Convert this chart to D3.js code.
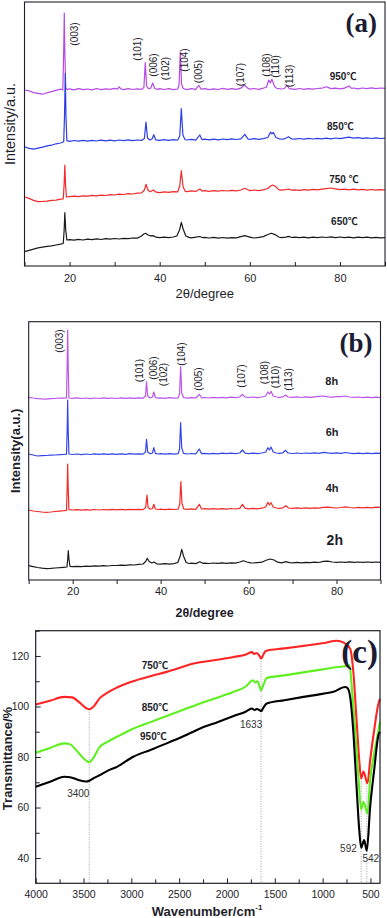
<!DOCTYPE html>
<html>
<head>
<meta charset="utf-8">
<script src="https://cdn.jsdelivr.net/npm/d3@7"></script>
<style>
  body { margin: 0; background: #fff; }
  svg { display: block; font-family: "Liberation Sans", Arial, "Noto Sans CJK SC", sans-serif; }
</style>
</head>
<body>
<svg id="fig" width="387" height="918"></svg>
<script>
// ---- panel (a): XRD vs calcination temperature, [2theta, intensity a.u.]
const a950 = [[10,176],[11,175.2],[12,173.4],[13,172.6],[14,171.8],[15,173.2],[16,174.4],[17,175.6],[18,176.8],[18.5,176.2],[18.7,215],[18.83,253],[18.95,214],[19.15,178],[19.5,176.4],[20,177.2],[21,176.1],[22,177.4],[23,176.3],[24,177],[25,176.2],[26,177.5],[27,176.4],[28,177.1],[29,176.6],[30,177.6],[30.6,176.8],[31,179.2],[31.4,177],[32,176.3],[33,177.4],[34,176.5],[35,177.2],[36,176.6],[36.5,178.5],[36.8,203.5],[37.1,180],[37.5,177.3],[38,177.8],[38.45,183],[38.9,177.5],[39.5,176.6],[40,177.4],[41,176.5],[42,177.3],[43,176.4],[44,177],[44.3,181],[44.58,214],[44.85,182],[45.2,177.5],[46,176.4],[47,177.3],[48,176.6],[48.66,180.7],[49.2,176.8],[50,177.4],[51,176.3],[52,177.2],[53,176.5],[54,177.6],[55,176.7],[56,177.4],[57,176.6],[58,177.8],[58.8,181],[59.6,177.6],[60,176.8],[61,177.5],[62,176.6],[63,177.8],[63.7,179],[64.2,186],[64.55,183],[64.9,186.7],[65.5,179.5],[66,177.6],[67,177],[67.7,177.5],[68.2,180.7],[68.8,177.4],[70,176.6],[71,177.5],[72,176.7],[73,177.4],[74,176.8],[75,177.5],[76,177.8],[77,179.3],[78,177.4],[79,177.9],[80,177.2],[81,177.9],[82,180],[82.6,177.6],[83,178],[84,177.1],[85,178],[86,177.4],[87,178.1],[88,177.3],[89,178],[90,177.7]];
const a850 = [[10,119.3],[11,117.6],[12,116.8],[13,117.9],[14,118.8],[15,120.1],[16,120.8],[17,122.2],[18,123],[18.7,124.2],[18.88,150],[19.05,192.5],[19.2,150],[19.4,125.4],[20,124.6],[21,125.5],[22,124.8],[23,125.6],[24,124.9],[25,125.7],[26,125],[27,125.8],[28,125.1],[29,125.9],[30,125.2],[31,126],[32,125.3],[33,126.1],[34,125.4],[35,126],[36,125.6],[36.6,127.5],[36.96,144],[37.3,128],[37.8,126],[38.3,127],[38.7,131.3],[39.1,126.2],[40,125.6],[41,126.3],[42,125.7],[43,126.4],[44,126],[44.45,130],[44.8,157.5],[45.15,131],[45.6,126.5],[46,126],[47,126.6],[48,125.9],[48.9,131],[49.4,126.3],[50,126.8],[51,126.1],[52,126.9],[53,126.2],[54,127],[55,126.3],[56,127.1],[57,126.5],[58,127.2],[58.9,131.7],[59.6,127],[60,126.6],[61,127.3],[62,126.6],[63,127.4],[64,128.5],[64.6,134],[64.9,132],[65.2,133.7],[65.8,128.5],[66.5,127.2],[67.5,126.8],[68.6,129.3],[69.3,127],[70,126.8],[71,127.5],[72,126.9],[73,127.6],[74,127],[75,127.7],[76,127.1],[77,127.8],[78,127.2],[79,128],[80,127.4],[81,128.2],[82,128.8],[83,127.8],[84,128.3],[85,127.6],[86,128.2],[87,127.5],[88,128.1],[89,127.5],[90,127.8]];
const a750 = [[10,69.3],[11,67.6],[12,65.6],[13,64.4],[14,64.6],[15,64.9],[16,65.6],[17,65.9],[18,66.8],[18.6,67.2],[18.8,82],[18.95,101],[19.1,82],[19.3,69],[20,69.4],[21,69.8],[22,69.3],[23,70.2],[24,69.9],[25,70.6],[26,70.1],[27,70.9],[28,70.5],[29,71.3],[30,71],[31,71.8],[32,71.5],[33,72.3],[34,72],[35,72.8],[36,73.2],[36.6,76],[36.96,81.7],[37.4,76],[37.9,74.2],[38.6,76],[39.2,73.8],[40,73.3],[41,74.1],[42,73.6],[43,74.4],[44,74.2],[44.45,80],[44.8,95.3],[45.2,79],[45.7,74.6],[46,74.4],[47,75.1],[48,74.6],[48.9,77],[49.5,74.8],[50,75.3],[51,74.7],[52,75.4],[53,74.9],[54,75.5],[55,75],[56,75.6],[57,75.1],[58,76],[58.9,77.7],[59.8,75.8],[60,75.3],[61,76],[62,75.4],[63,76.2],[64,77.5],[64.6,80],[65.1,81],[65.7,79.5],[66.4,76.4],[67,75.8],[68,76.3],[68.6,77],[69.3,75.9],[70,76.2],[71,75.6],[72,76.4],[73,75.8],[74,76.6],[75,76.1],[76,76.9],[77,77.4],[78,78],[79,77.2],[80,76.4],[81,76.9],[82,76.2],[83,76.8],[84,76.1],[85,76.7],[86,75.9],[87,76.5],[88,75.8],[89,76.4],[90,76]];
const a650 = [[10,14.3],[11,15.6],[12,16.8],[13,18.1],[14,18.8],[15,19.6],[16,20.1],[17,21],[18,21.8],[18.6,22.5],[18.8,36],[18.95,53.3],[19.15,36],[19.4,26],[20,26.4],[21,25.8],[22,26.6],[23,26],[24,26.8],[25,26.3],[26,27.1],[27,26.5],[28,27.3],[29,26.8],[30,27.5],[31,27],[32,27.7],[33,27.3],[34,28],[35,27.9],[35.8,29.5],[36.5,32],[36.9,32.7],[37.4,31],[38,30.2],[38.5,30.4],[39.2,28.8],[40,28.3],[41,28.9],[42,28.4],[43,29],[43.8,30],[44.4,36],[44.8,43.7],[45.2,37],[45.8,30],[46.5,28.6],[47,28.2],[48,28.8],[48.9,29.5],[49.6,28.3],[50,28.7],[51,28],[52,28.6],[53,27.9],[54,28.5],[55,27.8],[56,28.4],[57,28.2],[58,29.4],[58.9,30.3],[59.8,29.2],[60.5,28.3],[61,28],[62,28.6],[63,29.4],[64,31.5],[64.8,32.8],[65.6,31.4],[66.4,29],[67,28.4],[68,28.9],[68.6,29.6],[69.3,28.5],[70,28.9],[71,28.3],[72,28.9],[73,28.2],[74,28.8],[75,28.4],[76,29],[77,28.5],[78,29.1],[79,28.4],[80,29],[81,28.3],[82,28.9],[83,28.2],[84,28.8],[85,28.3],[86,28.9],[87,28.2],[88,28.7],[89,28.1],[90,28.3]];
const tempsA = ["950\u2103", "850\u2103", "750 \u2103", "650\u2103"];
const tagPosA = [[80.7,190],[80.1,140],[80.9,87],[81.0,45]];
const hklNames = ["(003)","(101)","(006)","(102)","(104)","(005)","(107)","(108)","(110)","(113)"];
const hklPosA = [[21.0,232],[35.0,217],[38.7,201],[41.2,197.5],[45.6,206],[48.6,194.5],[58.0,191.5],[63.75,201],[65.8,199.5],[68.9,190]];

// ---- panel (b): XRD vs calcination time
const b8h = [[10,182.7],[11,182],[12,181.4],[13,181.1],[14,180.9],[15,181.3],[16,181.5],[17,182],[18,181.8],[18.6,182.2],[18.75,215],[18.86,250],[18.98,215],[19.15,182],[20,181.6],[21,182.1],[22,181.5],[23,182],[24,181.4],[25,182],[26,181.5],[27,182.1],[28,181.6],[29,182],[30,181.5],[31,182.1],[32,181.6],[33,182.2],[34,181.7],[35,182.1],[36,181.8],[36.55,184],[36.8,198.3],[37.05,184],[37.6,182],[38.15,183],[38.45,188],[38.8,182.5],[39.5,181.8],[40,182.2],[41,181.7],[42,182.3],[43,181.8],[44,182.2],[44.3,186],[44.55,213.3],[44.8,187],[45.2,182.5],[46,181.9],[47,182.4],[48,182],[48.8,185.7],[49.3,182.2],[50,182.5],[51,182],[52,182.6],[53,182.1],[54,182.7],[55,182.2],[56,182.8],[57,182.3],[58,183],[58.6,185.7],[59.2,183],[60,182.5],[61,183],[62,182.4],[63,183],[63.9,184],[64.4,188],[64.75,186],[65.1,188.7],[65.6,184],[66.3,183],[67,182.6],[67.8,183.2],[68.4,185],[69,183],[70,182.6],[71,183.1],[72,182.5],[73,183.1],[74,182.6],[75,183.2],[76,183.6],[77,184],[78,183.2],[79,182.8],[80,183.3],[81,183.4],[82,184],[83,183],[84,182.6],[85,183],[86,182.4],[87,182.9],[88,182.3],[89,182.8],[90,182.3]];
const b6h = [[10,126],[11,125],[12,124],[13,124.3],[14,124.5],[15,124.8],[16,125],[17,125.4],[18,125.5],[18.6,125.8],[18.75,150],[18.86,180],[18.98,150],[19.15,126],[20,125.5],[21,126],[22,125.4],[23,126],[24,125.5],[25,126.1],[26,125.6],[27,126.1],[28,125.6],[29,126.2],[30,125.7],[31,126.2],[32,125.7],[33,126.3],[34,125.8],[35,126.2],[36,125.9],[36.55,128],[36.8,140.7],[37.05,128],[37.6,126.2],[38.15,127],[38.45,132.3],[38.8,126.6],[39.5,126],[40,126.4],[41,125.9],[42,126.4],[43,125.9],[44,126.3],[44.3,131],[44.55,157.3],[44.8,132],[45.2,126.6],[46,126],[47,126.5],[48,126.1],[48.8,131],[49.3,126.3],[50,126.7],[51,126.2],[52,126.7],[53,126.2],[54,126.8],[55,126.3],[56,126.9],[57,126.4],[58,127],[58.6,130],[59.2,126.8],[60,126.4],[61,126.9],[62,126.4],[63,127],[63.9,128],[64.4,132.3],[64.75,130],[65.1,133],[65.6,128],[66.3,127],[67,126.6],[67.8,127.2],[68.4,129.7],[69,127],[70,126.5],[71,127],[72,126.5],[73,127],[74,126.6],[75,127.1],[76,126.7],[77,127.6],[78,127.1],[79,126.7],[80,127.1],[81,126.6],[82,127.5],[83,126.8],[84,126.4],[85,126.9],[86,126.4],[87,126.9],[88,126.4],[89,126.9],[90,126.7]];
const b4h = [[10,70],[11,69],[12,68.5],[13,68],[14,67.7],[15,68],[16,68.5],[17,68.9],[18,69.3],[18.6,69.6],[18.75,92],[18.86,116],[18.98,92],[19.15,70.3],[20,70],[21,70.4],[22,69.9],[23,70.4],[24,69.9],[25,70.5],[26,70],[27,70.5],[28,70.1],[29,70.6],[30,70.1],[31,70.6],[32,70.2],[33,70.7],[34,70.3],[35,70.7],[36,70.4],[36.6,72.5],[36.9,85],[37.15,72.5],[37.7,70.8],[38.15,71.5],[38.45,75.7],[38.8,71],[39.5,70.5],[40,70.9],[41,70.4],[42,70.9],[43,70.5],[44,70.9],[44.35,76],[44.6,98.3],[44.85,77],[45.25,71.2],[46,70.6],[47,71.1],[48,70.7],[48.8,75.7],[49.3,71],[50,71.3],[51,70.8],[52,71.3],[53,70.8],[54,71.4],[55,70.9],[56,71.5],[57,71],[58,71.7],[58.6,75.7],[59.2,71.8],[60,71.2],[61,71.7],[62,71.2],[63,71.8],[63.9,73],[64.4,77.7],[64.75,75],[65.1,77.3],[65.6,73],[66.3,72],[67,71.6],[67.8,72.2],[68.5,74.3],[69.1,72],[70,71.6],[71,72.1],[72,71.6],[73,72.1],[74,71.7],[75,72.2],[76,71.8],[77,72.6],[78,72.9],[79,72.4],[80,72],[81,72.5],[82,73.2],[83,72.5],[84,72],[85,72.6],[86,72.1],[87,72.7],[88,72.2],[89,72.8],[90,72.7]];
const b2h = [[10,14.3],[11,13.4],[12,12.5],[13,11.8],[14,11.3],[15,11.6],[16,12],[17,12.3],[18,12.7],[18.7,13],[18.88,21],[19.0,29.3],[19.15,21],[19.4,13.5],[20,13.3],[21,13.7],[22,13.4],[23,13.9],[24,13.6],[25,14.1],[26,13.8],[27,14.3],[28,14],[29,14.5],[30,14.5],[31,14.9],[32,14.7],[33,15.2],[34,15],[35,15.6],[36,16],[36.6,18.5],[36.95,21.7],[37.4,18.5],[38,17],[38.5,18],[39.1,16.2],[40,15.9],[41,16.3],[42,15.9],[43,16.4],[43.9,17.5],[44.45,24],[44.8,30.7],[45.2,24],[45.8,17.5],[46.5,16.5],[47,16.8],[48,16.4],[48.9,18.3],[49.6,16.7],[50,16.9],[51,16.5],[52,17],[53,16.6],[54,17.1],[55,16.7],[56,17.2],[57,16.9],[58,18],[58.8,19.3],[59.6,18],[60.5,17.2],[61,17],[62,17.4],[63,17.8],[64,19.8],[64.9,21],[65.8,20],[66.6,17.8],[67.5,17.2],[68.5,18.3],[69.3,17.4],[70,17.2],[71,17.6],[72,17.2],[73,17.7],[74,17.3],[75,17.8],[76,17.5],[77,18.6],[78,18.9],[79,18],[80,17.7],[81,18],[82,17.6],[83,18.1],[84,17.6],[85,18],[86,17.6],[87,18],[88,17.6],[89,18],[90,17.7]];
const timesB = ["8h", "6h", "4h", "2h"];
const tagPosB = [[78.9,199],[79.0,148.3],[79.0,92.3],[79.6,40]];
const hklPosB = [[17.1,239],[35.3,209.5],[38.3,212],[40.6,205.5],[44.7,226],[48.5,201],[58.5,204],[63.7,207.5],[66.2,203],[69.0,200.5]];
const xrdTicks = [20, 40, 60, 80];

// ---- panel (c): FTIR, [wavenumber cm-1, transmittance %]
const ir750 = [[4000,100.8],[3850,102.3],[3700,103.8],[3620,103.6],[3540,101.5],[3470,99.3],[3440,98.9],[3400,99.8],[3330,103.3],[3250,105.5],[3150,107.5],[3000,109.8],[2800,112],[2630,113.7],[2500,115.2],[2350,117],[2100,118.5],[1930,119.6],[1800,120.6],[1740,121.5],[1715,120.8],[1690,121.2],[1660,120],[1643,119],[1620,120.5],[1594,122],[1400,123],[1200,124],[1000,125],[850,126],[780,125.3],[712,122.9],[680,114.3],[645,94.6],[617,78.8],[597,71.5],[573,74.2],[531,69.6],[503,78.8],[461,90.6],[416,101.2],[400,103]];
const ir850 = [[4000,81.7],[3850,83.6],[3700,85.4],[3640,85],[3560,82],[3480,78.8],[3440,77.9],[3400,79.5],[3330,84],[3250,86],[3150,88],[3000,90.9],[2800,93.8],[2630,96.2],[2450,98.8],[2280,101.2],[2100,103.5],[1930,105.8],[1800,108],[1730,110.4],[1700,109.5],[1680,110],[1660,108],[1643,106.4],[1620,108.5],[1584,111.3],[1400,112.3],[1200,113.5],[1000,114.7],[887,115.4],[750,116],[719,116.3],[695,107.7],[660,90.6],[626,72.2],[597,59.2],[573,62.3],[531,57.7],[503,70.9],[461,81.4],[416,90.6],[400,94]];
const ir950 = [[4000,68.2],[3850,70.2],[3700,72.2],[3640,72],[3560,71],[3470,70.3],[3440,70.6],[3400,71.5],[3330,72.8],[3250,74.5],[3150,76.1],[2980,80.1],[2800,82.8],[2630,85.4],[2450,88.3],[2280,91.3],[2100,93.8],[1930,96.2],[1800,98],[1740,99.2],[1710,98.6],[1690,99],[1660,98.6],[1643,98.1],[1620,99.5],[1584,101.2],[1400,102.5],[1200,103.8],[1000,105],[887,105.8],[765,107.7],[740,107.3],[712,103.8],[680,90.6],[645,68.2],[617,51.1],[597,44.1],[566,47.1],[538,42.9],[503,60.3],[461,74.8],[416,88.7],[400,90]];
const irNames = ["750\u2103", "850\u2103", "950\u2103"];
const irTagPos = [[2892,116.3],[2892,99.6],[2909,88]];
const bandNames = ["3400", "1633", "592", "542"];
const bandLabelPos = [[3555,65.6],[1748,92.9],[730,43.9],[496,39.9]];
const bandLines = [[3440,98.9],[1643,119],[597,71.5],[538,69.6]];
const irXTicks = [4000, 3500, 3000, 2500, 2000, 1500, 1000, 500];
const irYTicks = [40, 60, 80, 100, 120];

const svg = d3.select("#fig");
const ink = "#1e1e2a";

function drawXrd(opt) {
  let x = d3.scaleLinear().domain([10, 90]).range([opt.l, opt.r]);
  let y = d3.scaleLinear().domain([0, opt.yMax]).range([opt.b, opt.t]);
  let g = svg.append("g");

  let line = d3.line().x((d) => x(d[0])).y((d) => y(d[1]));
  opt.series.forEach((s, i) => {
    g.append("path")
      .attr("d", line(s))
      .style("fill", "none")
      .style("stroke", opt.colors[i])
      .style("stroke-width", 1.2)
      .style("stroke-linejoin", "round");
  });

  // axis + frame
  let tick = opt.tickOut ? 4 : -4;
  let ax = g.append("g").attr("transform", `translate(0,${opt.b})`)
    .call(d3.axisBottom(x).tickValues(xrdTicks).tickSize(tick).tickPadding(opt.pad).tickFormat(d3.format("d")));
  g.append("g").attr("transform", `translate(0,${opt.b})`)
    .call(d3.axisBottom(x).tickValues([10, 30, 50, 70, 90]).tickSize(tick).tickFormat(""))
    .select(".domain").remove();
  ax.select(".domain").remove();
  g.selectAll(".tick line").style("stroke", ink);
  ax.selectAll("text").style("font-size", "11px").style("fill", ink).style("font-family", "Liberation Sans, Arial");

  g.append("rect")
    .attr("x", opt.l).attr("y", opt.t)
    .attr("width", opt.r - opt.l).attr("height", opt.b - opt.t)
    .style("fill", "none").style("stroke", ink).style("stroke-width", 1.1);

  // hkl labels
  hklNames.forEach((h, i) => {
    let p = opt.hkl[i];
    g.append("text")
      .attr("transform", `translate(${x(p[0])},${y(p[1])}) rotate(-90)`)
      .attr("text-anchor", "middle")
      .attr("dy", "0.35em")
      .style("font-size", "10px")
      .style("fill", ink)
      .text(h);
  });

  opt.tags.forEach((t, i) => {
    g.append("text")
      .attr("x", x(opt.tagPos[i][0])).attr("y", y(opt.tagPos[i][1]))
      .attr("text-anchor", "middle").attr("dy", "0.35em")
      .style("font-size", opt.tagSize[i] + "px")
      .style("font-weight", "bold")
      .style("fill", ink)
      .text(t);
  });

  g.append("text")
    .attr("x", opt.r - 8).attr("y", opt.titleY)
    .attr("text-anchor", "end")
    .style("font-family", "Liberation Serif, Times New Roman, serif")
    .style("font-weight", "bold")
    .style("font-size", "27px")
    .style("fill", "#1b1b33")
    .text(opt.title);

  g.append("text")
    .attr("transform", `translate(${opt.yLabX},${(opt.t + opt.b) / 2 + opt.yLabShift}) rotate(-90)`)
    .attr("text-anchor", "middle").attr("dy", "0.35em")
    .style("font-size", opt.yLabSize + "px")
    .style("font-weight", opt.bold ? "bold" : "normal")
    .style("fill", ink)
    .text(opt.yLab);

  g.append("text")
    .attr("x", (opt.l + opt.r) / 2).attr("y", opt.xLabY)
    .attr("text-anchor", "middle").attr("dy", "0.35em")
    .style("font-size", opt.xLabSize + "px")
    .style("font-weight", opt.bold ? "bold" : "normal")
    .style("fill", ink)
    .text("2\u03b8/degree");
}

function drawIr() {
  let l = 35.7, r = 380, t = 630.7, b = 883.3;
  let x = d3.scaleLinear().domain([4000, 400]).range([l, r]);
  let y = d3.scaleLinear().domain([30, 130]).range([b, t]);
  let g = svg.append("g");

  // guide lines at the band positions
  bandLines.forEach((d) => {
    g.append("line")
      .attr("x1", x(d[0])).attr("x2", x(d[0]))
      .attr("y1", y(d[1])).attr("y2", b)
      .style("stroke", "#8a8a8a").style("stroke-width", 0.8)
      .style("stroke-dasharray", "1,1.5");
  });

  let line = d3.line().x((d) => x(d[0])).y((d) => y(d[1])).curve(d3.curveMonotoneX);
  let colors = ["#ff2424", "#5ef01e", "#000000"];
  [ir750, ir850, ir950].forEach((s, i) => {
    g.append("path")
      .attr("d", line(s))
      .style("fill", "none")
      .style("stroke", colors[i])
      .style("stroke-width", 2.1)
      .style("stroke-linejoin", "round");
  });

  let ax = g.append("g").attr("transform", `translate(0,${b})`)
    .call(d3.axisBottom(x).tickValues(irXTicks).tickSize(-5).tickPadding(7).tickFormat(d3.format("d")));
  g.append("g").attr("transform", `translate(0,${b})`)
    .call(d3.axisBottom(x).tickValues(d3.range(3750, 400, -500)).tickSize(-4).tickFormat(""))
    .select(".domain").remove();
  let ay = g.append("g").attr("transform", `translate(${l},0)`)
    .call(d3.axisLeft(y).tickValues(irYTicks).tickSize(-5).tickPadding(6.5));
  g.append("g").attr("transform", `translate(${l},0)`)
    .call(d3.axisLeft(y).tickValues([50, 70, 90, 110, 130]).tickSize(-4).tickFormat(""))
    .select(".domain").remove();
  ax.select(".domain").remove();
  ay.select(".domain").remove();
  g.selectAll(".tick line").style("stroke", ink);
  g.selectAll(".tick text").style("font-size", "10.5px").style("fill", ink).style("font-family", "Liberation Sans, Arial");

  g.append("rect")
    .attr("x", l).attr("y", t).attr("width", r - l).attr("height", b - t)
    .style("fill", "none").style("stroke", ink).style("stroke-width", 1.2);

  irNames.forEach((n, i) => {
    g.append("text")
      .attr("x", x(irTagPos[i][0])).attr("y", y(irTagPos[i][1]))
      .attr("dy", "0.35em")
      .style("font-size", "10px").style("font-weight", "bold").style("fill", ink)
      .text(n);
  });
  bandNames.forEach((n, i) => {
    g.append("text")
      .attr("x", x(bandLabelPos[i][0])).attr("y", y(bandLabelPos[i][1]))
      .attr("text-anchor", "middle").attr("dy", "0.35em")
      .style("font-size", "10px").style("fill", "#333")
      .text(n);
  });

  g.append("text")
    .attr("x", r - 2).attr("y", 663)
    .attr("text-anchor", "end")
    .style("font-family", "Liberation Serif, Times New Roman, serif")
    .style("font-weight", "bold")
    .style("font-size", "33px")
    .style("fill", "#1b1b33")
    .text("(c)");

  g.append("text")
    .attr("transform", `translate(7,758.5) rotate(-90)`)
    .attr("text-anchor", "middle").attr("dy", "0.35em")
    .style("font-size", "13px").style("font-weight", "bold").style("fill", ink)
    .text("Transmittance/%");

  let xl = g.append("text")
    .attr("x", 207).attr("y", 916)
    .attr("text-anchor", "middle")
    .style("font-size", "13px").style("font-weight", "bold").style("fill", ink);
  xl.append("tspan").text("Wavenumber/cm");
  xl.append("tspan").attr("dy", -6).style("font-size", "8px").text("-1");
}

drawXrd({
  l: 24.5, r: 385, t: 2, b: 266, yMax: 264,
  series: [a950, a850, a750, a650],
  colors: ["#b54ae6", "#2c3fe6", "#f02a2a", "#1a1a1a"],
  hkl: hklPosA, tags: tempsA, tagPos: tagPosA, tagSize: [10, 10, 10, 10],
  tickOut: false, pad: 8, title: "(a)", titleY: 32,
  yLab: "Intensity/a.u.", yLabX: 10, yLabShift: -10, yLabSize: 14.5,
  xLabY: 293, xLabSize: 13, bold: false
});

drawXrd({
  l: 28.7, r: 380.5, t: 321.7, b: 580, yMax: 258.3,
  series: [b8h, b6h, b4h, b2h],
  colors: ["#bb55ee", "#3446e8", "#f22a2a", "#1a1a1a"],
  hkl: hklPosB, tags: timesB, tagPos: tagPosB, tagSize: [11, 11, 11, 14],
  tickOut: true, pad: 3.5, title: "(b)", titleY: 352,
  yLab: "Intensity(a.u.)", yLabX: 15, yLabShift: 0, yLabSize: 13,
  xLabY: 613, xLabSize: 12.5, bold: true
});

drawIr();
</script>
</body>
</html>
